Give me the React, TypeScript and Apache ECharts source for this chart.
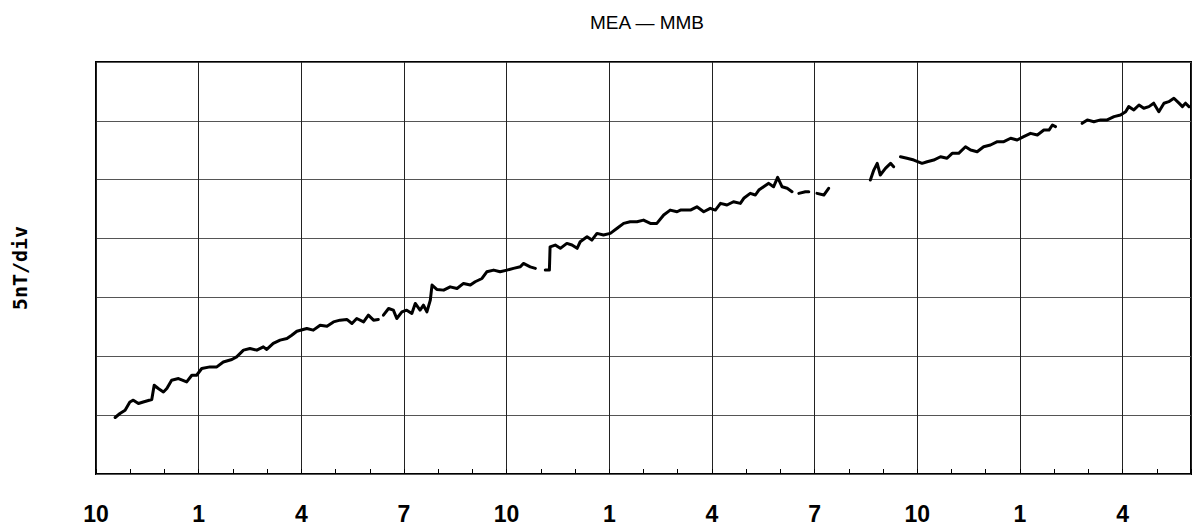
import React, { useEffect, useRef } from "react";
import * as echarts from "echarts";

// x: months elapsed since the start of the first October; y: MEA − MMB difference in nT (5 nT per division)
const segA: [number, number][] = [
  [0.56, 4.8], [0.7, 5.14], [0.85, 5.42], [0.99, 6.12], [1.09, 6.27], [1.24, 5.99], [1.38, 6.12], [1.63, 6.33],
  [1.7, 7.54], [1.82, 7.26], [1.97, 6.97], [2.07, 7.26], [2.21, 7.97], [2.41, 8.11], [2.65, 7.82], [2.8, 8.39],
  [2.94, 8.39], [3.09, 8.96], [3.33, 9.1], [3.53, 9.1], [3.72, 9.52], [3.97, 9.73], [4.11, 9.95], [4.31, 10.52],
  [4.5, 10.66], [4.7, 10.52], [4.89, 10.8], [4.99, 10.58], [5.18, 11.09], [5.38, 11.37], [5.58, 11.51], [5.72, 11.79],
  [5.87, 12.13], [6.16, 12.36], [6.35, 12.22], [6.55, 12.64], [6.75, 12.56], [6.94, 12.92], [7.13, 13.07], [7.33, 13.13],
  [7.48, 12.79], [7.62, 13.21], [7.82, 12.92], [7.96, 13.49], [8.11, 13.07], [8.25, 13.13],
];
const segB: [number, number][] = [
  [8.4, 13.49], [8.55, 14.06], [8.69, 13.92], [8.79, 13.21], [8.94, 13.77], [9.08, 13.92], [9.23, 13.64], [9.33, 14.49],
  [9.47, 13.92], [9.57, 14.34], [9.67, 13.77], [9.77, 14.77], [9.82, 16.05], [9.96, 15.68], [10.16, 15.62], [10.35, 15.9],
  [10.55, 15.76], [10.74, 16.19], [10.94, 16.05], [11.08, 16.33], [11.28, 16.61], [11.42, 17.18], [11.62, 17.32], [11.81, 17.18],
  [12.01, 17.32], [12.2, 17.47], [12.4, 17.6], [12.49, 17.89], [12.69, 17.6], [12.84, 17.47],
];
const segC: [number, number][] = [
  [13.13, 17.32], [13.25, 17.32], [13.27, 19.3], [13.42, 19.45], [13.57, 19.17], [13.76, 19.59], [13.91, 19.45], [14.06, 19.17],
  [14.15, 19.73], [14.35, 20.15], [14.49, 19.87], [14.64, 20.44], [14.83, 20.3], [15.03, 20.44], [15.23, 20.87], [15.42, 21.29],
  [15.61, 21.43], [15.81, 21.43], [16.0, 21.57], [16.2, 21.29], [16.39, 21.29], [16.59, 22.0], [16.78, 22.42], [16.98, 22.28],
  [17.08, 22.42], [17.37, 22.42], [17.56, 22.7], [17.76, 22.28], [17.95, 22.57], [18.1, 22.42], [18.25, 22.99], [18.44, 22.85],
  [18.63, 23.13], [18.83, 22.99], [18.93, 23.42], [19.12, 23.84], [19.27, 23.7], [19.37, 24.12], [19.51, 24.4], [19.66, 24.69],
  [19.8, 24.4], [19.92, 25.2], [20.05, 24.4], [20.2, 24.27], [20.34, 23.98],
];
const segD: [number, number][] = [[20.54, 23.84], [20.73, 23.98], [20.83, 23.98]];
const segE: [number, number][] = [[21.07, 23.84], [21.27, 23.7], [21.41, 24.27]];
const segF: [number, number][] = [
  [22.63, 24.97], [22.73, 25.82], [22.83, 26.39], [22.92, 25.4], [23.07, 25.97], [23.22, 26.39], [23.31, 26.1],
];
const segG: [number, number][] = [
  [23.51, 26.95], [23.7, 26.82], [23.9, 26.67], [24.14, 26.39], [24.29, 26.53], [24.48, 26.67], [24.68, 26.95], [24.87, 26.82],
  [25.02, 27.24], [25.21, 27.24], [25.41, 27.8], [25.56, 27.52], [25.75, 27.38], [25.94, 27.8], [26.14, 27.95], [26.34, 28.23],
  [26.53, 28.23], [26.73, 28.52], [26.92, 28.37], [27.11, 28.66], [27.31, 28.94], [27.51, 28.8], [27.7, 29.22], [27.85, 29.22],
  [27.95, 29.65], [28.04, 29.51],
];
const segH: [number, number][] = [
  [28.82, 29.79], [28.97, 30.08], [29.16, 29.93], [29.36, 30.08], [29.55, 30.08], [29.75, 30.36], [29.94, 30.5], [30.09, 30.78],
  [30.18, 31.21], [30.33, 30.93], [30.48, 31.35], [30.62, 31.07], [30.77, 31.21], [30.91, 31.5], [31.06, 30.78], [31.21, 31.5],
  [31.35, 31.63], [31.5, 31.92], [31.65, 31.5], [31.75, 31.21], [31.84, 31.5], [31.94, 31.21],
];
const segments = [segA, segB, segC, segD, segE, segF, segG, segH];

const quarterLabels = ["10", "1", "4", "7", "10", "1", "4", "7", "10", "1", "4"];
const xMin = 0;
const xMax = 32;
const yMin = 0;
const yMax = 35;
const titleText = "MEA — MMB";
const yName = "5nT/div";

export default function App() {
  const ref = useRef<HTMLDivElement>(null);
  useEffect(() => {
    if (!ref.current) return;
    const chart = echarts.init(ref.current, undefined, { renderer: "svg" });
    const data: any[] = [];
    segments.forEach((seg, i) => {
      if (i > 0) data.push([(segments[i - 1][segments[i - 1].length - 1][0] + seg[0][0]) / 2, "-"]);
      seg.forEach((p) => data.push([p[0], p[1]]));
    });
    chart.setOption({
      animation: false,
      backgroundColor: "#fff",
      title: {
        text: titleText,
        left: 642,
        top: 8,
        textAlign: "center",
        textStyle: { fontFamily: "Liberation Sans", fontSize: 19, fontWeight: "normal", color: "#000" },
      },
      grid: {
        left: 96,
        top: 62,
        right: 4,
        bottom: 56,
        show: true,
        borderColor: "#000",
        borderWidth: 2,
        backgroundColor: "transparent",
      },
      xAxis: [
        {
          type: "value",
          min: xMin,
          max: xMax,
          interval: 3,
          axisLine: { show: false },
          axisTick: { show: false },
          splitLine: { show: true, lineStyle: { color: "#222", width: 1 } },
          axisLabel: {
            show: true,
            margin: 28,
            showMinLabel: true,
            showMaxLabel: true,
            color: "#000",
            fontFamily: "Liberation Sans",
            fontWeight: "bold",
            fontSize: 23,
            formatter: (v: number) => (Math.abs(v % 3) < 1e-6 ? quarterLabels[Math.round(v / 3)] ?? "" : ""),
          },
        },
        {
          type: "value",
          min: xMin,
          max: xMax,
          interval: 1,
          position: "bottom",
          axisLine: { show: false },
          axisTick: { show: true, inside: true, length: 5, lineStyle: { color: "#000", width: 1 } },
          splitLine: { show: false },
          axisLabel: { show: false },
        },
      ],
      yAxis: {
        type: "value",
        min: yMin,
        max: yMax,
        interval: 5,
        name: yName,
        nameLocation: "middle",
        nameGap: 66,
        nameRotate: 90,
        nameTextStyle: { fontFamily: "DejaVu Sans Mono", fontWeight: "bold", fontSize: 20, color: "#000" },
        axisLine: { show: false },
        axisTick: { show: false },
        axisLabel: { show: false },
        splitLine: { show: true, lineStyle: { color: "#555", width: 1 } },
      },
      series: [
        {
          type: "line",
          xAxisIndex: 0,
          data,
          showSymbol: false,
          symbol: "none",
          connectNulls: false,
          lineStyle: { color: "#000", width: 3, join: "round", cap: "round" },
        },
      ],
    });
    return () => chart.dispose();
  }, []);
  return <div ref={ref} style={{ position: "fixed", left: 0, top: 0, width: 1195, height: 530 }} />;
}
